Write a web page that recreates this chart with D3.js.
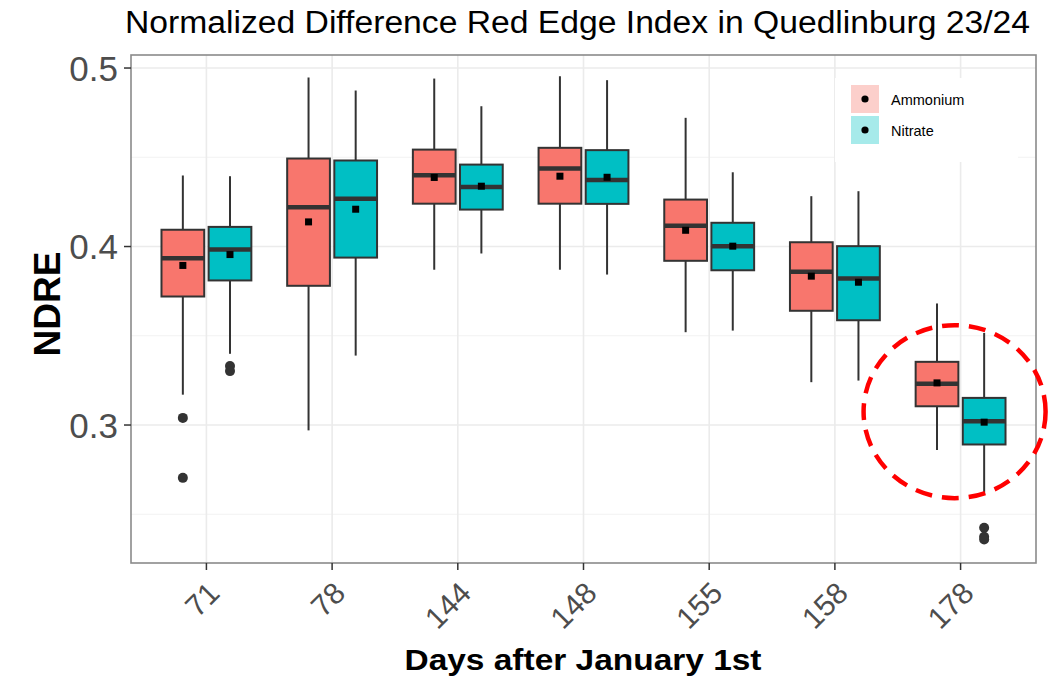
<!DOCTYPE html>
<html><head><meta charset="utf-8">
<script src="https://cdn.jsdelivr.net/npm/d3@7"></script>
<style>body{margin:0;background:#fff}svg{display:block}text{font-family:"Liberation Sans",Arial,sans-serif}</style>
</head><body><svg id="c" width="1051" height="680"></svg>
<script>
const days = ["71","78","144","148","155","158","178"];
const groups = ["Ammonium","Nitrate"];
const colors = ["#F8766D","#00BFC4"];
const legendColors = ["#FCCFCB","#A6EAEA"];
const yTicks = [0.3,0.4,0.5];
const yMinor = [0.25,0.35,0.45];

const ammLower  = [0.317, 0.297, 0.387, 0.387, 0.352, 0.324, 0.286];
const ammQ1     = [0.372, 0.378, 0.424, 0.424, 0.392, 0.364, 0.3105];
const ammMedian = [0.3935, 0.422, 0.440, 0.4437, 0.4116, 0.3858, 0.3231];
const ammQ3     = [0.4094, 0.4493, 0.4543, 0.4553, 0.4263, 0.4024, 0.3354];
const ammUpper  = [0.4398, 0.4947, 0.4941, 0.4954, 0.4721, 0.4282, 0.3681];
const ammMean   = [0.3894, 0.4138, 0.4387, 0.4394, 0.4091, 0.3834, 0.3236];
const ammOut    = [[0.304, 0.2704], [], [], [], [], [], []];

const nitLower  = [0.3399, 0.3389, 0.3961, 0.3843, 0.3529, 0.3249, 0.2611];
const nitQ1     = [0.3810, 0.3938, 0.4207, 0.4239, 0.3867, 0.3587, 0.2891];
const nitMedian = [0.3983, 0.4267, 0.4334, 0.4373, 0.4002, 0.3821, 0.3021];
const nitQ3     = [0.4110, 0.4482, 0.4459, 0.4540, 0.4133, 0.4002, 0.3152];
const nitUpper  = [0.4394, 0.4874, 0.4786, 0.4932, 0.4416, 0.4310, 0.3516];
const nitMean   = [0.3955, 0.4209, 0.4338, 0.4388, 0.4002, 0.3800, 0.3016];
const nitOut    = [[0.3330, 0.3302], [], [], [], [], [], [0.2424, 0.2374, 0.2359]];

const stats = [
  {lower:ammLower,q1:ammQ1,median:ammMedian,q3:ammQ3,upper:ammUpper,mean:ammMean,out:ammOut},
  {lower:nitLower,q1:nitQ1,median:nitMedian,q3:nitQ3,upper:nitUpper,mean:nitMean,out:nitOut}
];
const highlight = {day:"178", value:0.3075};

const L=131,R=1036,T=55,B=563;
const svg = d3.select("#c");
const x = d3.scalePoint().domain(days).range([L,R]).padding(0.6);
const step = x.step();
const y = d3.scaleLinear().domain([0.2227,0.5073]).range([B,T]);
const off = d3.scalePoint().domain(groups).range([-0.1875*step,0.1875*step]);
const bw = 0.34*step;

// gridlines
const g = svg.append("g");
g.selectAll(".mn").data(yMinor).join("line").attr("x1",L).attr("x2",R)
 .attr("y1",d=>y(d)).attr("y2",d=>y(d)).attr("stroke","#f2f2f2").attr("stroke-width",1);
g.selectAll(".mj").data(yTicks).join("line").attr("x1",L).attr("x2",R)
 .attr("y1",d=>y(d)).attr("y2",d=>y(d)).attr("stroke","#ebebeb").attr("stroke-width",1.6);
g.selectAll(".vx").data(days).join("line").attr("y1",T).attr("y2",B)
 .attr("x1",d=>x(d)).attr("x2",d=>x(d)).attr("stroke","#ebebeb").attr("stroke-width",1.6);

// boxes
groups.forEach((grp,gi)=>{
  const s = stats[gi];
  const gg = svg.append("g");
  days.forEach((d,i)=>{
    const cx = x(d)+off(grp);
    gg.append("line").attr("x1",cx).attr("x2",cx).attr("y1",y(s.upper[i])).attr("y2",y(s.q3[i]))
      .attr("stroke","#333").attr("stroke-width",2);
    gg.append("line").attr("x1",cx).attr("x2",cx).attr("y1",y(s.q1[i])).attr("y2",y(s.lower[i]))
      .attr("stroke","#333").attr("stroke-width",2);
    gg.append("rect").attr("x",cx-bw/2).attr("width",bw).attr("y",y(s.q3[i]))
      .attr("height",y(s.q1[i])-y(s.q3[i])).attr("fill",colors[gi]).attr("stroke","#333").attr("stroke-width",2);
    gg.append("line").attr("x1",cx-bw/2).attr("x2",cx+bw/2).attr("y1",y(s.median[i])).attr("y2",y(s.median[i]))
      .attr("stroke","#333").attr("stroke-width",4.5);
    s.out[i].forEach(v=>{
      gg.append("circle").attr("cx",cx).attr("cy",y(v)).attr("r",5).attr("fill","#333");
    });
    gg.append("rect").attr("x",cx-3.5).attr("y",y(s.mean[i])-3.5).attr("width",7).attr("height",7).attr("fill","#000");
  });
});

// panel border
svg.append("rect").attr("x",L).attr("y",T).attr("width",R-L).attr("height",B-T)
  .attr("fill","none").attr("stroke","#8a8a8a").attr("stroke-width",1.6);

// y axis
const ya = svg.append("g");
yTicks.forEach(v=>{
  ya.append("line").attr("x1",L-7).attr("x2",L).attr("y1",y(v)).attr("y2",y(v)).attr("stroke","#333").attr("stroke-width",1.5);
  ya.append("text").attr("x",L-13).attr("y",y(v)).attr("dy","0.36em").attr("text-anchor","end")
    .attr("font-size",35).attr("fill","#4d4d4d").text(d3.format(".1f")(v));
});
// x axis
const xa = svg.append("g");
days.forEach(d=>{
  xa.append("line").attr("x1",x(d)).attr("x2",x(d)).attr("y1",B).attr("y2",B+7).attr("stroke","#333").attr("stroke-width",1.5);
  xa.append("text").attr("transform",`translate(${x(d)+15},${B+32}) rotate(-45)`)
    .attr("text-anchor","end").attr("font-size",30).attr("fill","#4d4d4d").text(d);
});

// titles
svg.append("text").attr("x",125).attr("y",33).attr("font-size",31).attr("fill","#000")
  .attr("textLength",905).attr("lengthAdjust","spacingAndGlyphs")
  .text("Normalized Difference Red Edge Index in Quedlinburg 23/24");
svg.append("text").attr("transform","translate(60,304) rotate(-90)").attr("text-anchor","middle")
  .attr("font-size",37).attr("font-weight","bold").attr("fill","#000").text("NDRE");
svg.append("text").attr("x",583).attr("y",670).attr("text-anchor","middle")
  .attr("font-size",30).attr("font-weight","bold").attr("fill","#000")
  .attr("textLength",357).attr("lengthAdjust","spacingAndGlyphs").text("Days after January 1st");

// legend
const lg = svg.append("g");
lg.append("rect").attr("x",835).attr("y",78).attr("width",183).attr("height",84).attr("fill","#fff");
groups.forEach((grp,gi)=>{
  const ky = 85+gi*31;
  lg.append("rect").attr("x",851).attr("y",ky).attr("width",28).attr("height",28).attr("fill",legendColors[gi]);
  lg.append("circle").attr("cx",865).attr("cy",ky+14).attr("r",3.6).attr("fill","#000");
  lg.append("text").attr("x",891).attr("y",ky+20).attr("font-size",14.5).attr("fill","#000").text(grp);
});

// highlight annotation
svg.append("ellipse").attr("cx",x(highlight.day)-6).attr("cy",y(highlight.value))
  .attr("rx",91).attr("ry",86.5).attr("fill","none").attr("stroke","#ff0000")
  .attr("stroke-width",4.5).attr("stroke-dasharray","17,10");
</script></body></html>
